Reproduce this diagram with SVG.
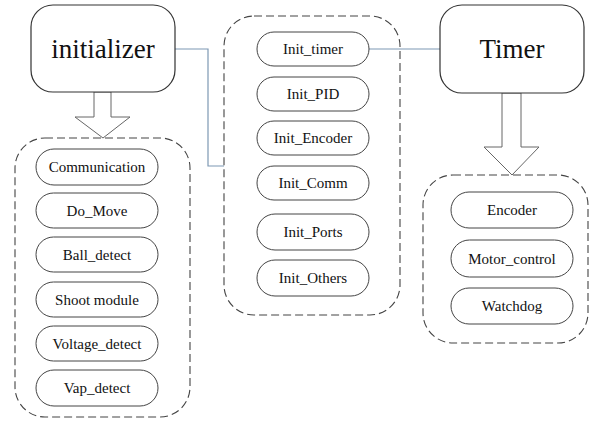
<svg xmlns="http://www.w3.org/2000/svg" width="592" height="421" viewBox="0 0 592 421">
<style>
.big{fill:#fff;stroke:#333;stroke-width:1.2}
.grp{fill:none;stroke:#444;stroke-width:1.1;stroke-dasharray:8,4}
.pill{fill:#fff;stroke:#444;stroke-width:1}
.arr{fill:#fff;stroke:#666;stroke-width:1}
.con{fill:none;stroke:#7d98b3;stroke-width:1.2}
text{font-family:"Liberation Serif","Times New Roman",serif;fill:#111;text-anchor:middle}
.t{font-size:15px}
.T{font-size:27px}
</style>
<rect width="592" height="421" fill="#fff"/>
<g id="connectors">
<polyline class="con" points="175,49 208,49 208,166 224,166"/>
<line class="con" x1="369" y1="49" x2="440" y2="49"/>
<polygon class="arr" points="94,92 111,92 111,117 130,117 103,138 75,117 94,117"/>
<polygon class="arr" points="502,93 521,93 521,147 539,147 512,175 484,147 502,147"/>
</g>
<g id="initializer">
<rect class="big" x="31" y="5" width="144" height="87" rx="22"/>
<text class="T" x="103" y="58" font-family="Liberation Serif">initializer</text>
</g>
<g id="timer">
<rect class="big" x="440" y="5" width="144" height="88" rx="22"/>
<text class="T" x="512" y="58" font-family="Liberation Serif">Timer</text>
</g>
<g id="init-group">
<rect class="grp" x="224" y="16" width="176" height="299" rx="30"/>
<g id="init_timer"><rect class="pill" x="257" y="32" width="112" height="34" rx="17"/><text class="t" x="313" y="54" font-family="Liberation Serif">Init_timer</text></g>
<g id="init_pid"><rect class="pill" x="257" y="77" width="112" height="34" rx="17"/><text class="t" x="313" y="99" font-family="Liberation Serif">Init_PID</text></g>
<g id="init_encoder"><rect class="pill" x="257" y="121" width="112" height="34" rx="17"/><text class="t" x="313" y="143" font-family="Liberation Serif">Init_Encoder</text></g>
<g id="init_comm"><rect class="pill" x="257" y="166" width="112" height="34" rx="17"/><text class="t" x="313" y="188" font-family="Liberation Serif">Init_Comm</text></g>
<g id="init_ports"><rect class="pill" x="257" y="214" width="112" height="36" rx="18"/><text class="t" x="313" y="237" font-family="Liberation Serif">Init_Ports</text></g>
<g id="init_others"><rect class="pill" x="257" y="260" width="112" height="36" rx="18"/><text class="t" x="313" y="283" font-family="Liberation Serif">Init_Others</text></g>
</g>
<g id="main-group">
<rect class="grp" x="15" y="138" width="175" height="279" rx="30"/>
<g id="communication"><rect class="pill" x="36" y="149" width="122" height="36" rx="18"/><text class="t" x="97" y="172" font-family="Liberation Serif">Communication</text></g>
<g id="do_move"><rect class="pill" x="36" y="193" width="122" height="35" rx="17.5"/><text class="t" x="97" y="216" font-family="Liberation Serif">Do_Move</text></g>
<g id="ball_detect"><rect class="pill" x="36" y="237" width="122" height="35" rx="17.5"/><text class="t" x="97" y="260" font-family="Liberation Serif">Ball_detect</text></g>
<g id="shoot_module"><rect class="pill" x="36" y="282" width="122" height="35" rx="17.5"/><text class="t" x="97" y="305" font-family="Liberation Serif">Shoot module</text></g>
<g id="voltage_detect"><rect class="pill" x="36" y="326" width="122" height="35" rx="17.5"/><text class="t" x="97" y="349" font-family="Liberation Serif">Voltage_detect</text></g>
<g id="vap_detect"><rect class="pill" x="36" y="370" width="122" height="36" rx="18"/><text class="t" x="97" y="393" font-family="Liberation Serif">Vap_detect</text></g>
</g>
<g id="timer-group">
<rect class="grp" x="423" y="175" width="165" height="168" rx="30"/>
<g id="encoder"><rect class="pill" x="451" y="192" width="122" height="36" rx="18"/><text class="t" x="512" y="215" font-family="Liberation Serif">Encoder</text></g>
<g id="motor_control"><rect class="pill" x="451" y="240" width="122" height="37" rx="18.5"/><text class="t" x="512" y="264" font-family="Liberation Serif">Motor_control</text></g>
<g id="watchdog"><rect class="pill" x="451" y="288" width="122" height="36" rx="18"/><text class="t" x="512" y="311" font-family="Liberation Serif">Watchdog</text></g>
</g>
</svg>
